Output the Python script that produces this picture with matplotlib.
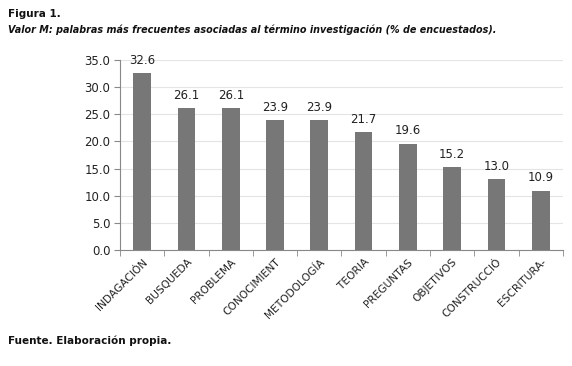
import matplotlib
matplotlib.use("Agg")
import matplotlib.pyplot as plt
import numpy as np

categories = ["INDAGACIÓN", "BUSQUEDA", "PROBLEMA", "CONOCIMIENT", "METODOLOGÍA",
              "TEORIA", "PREGUNTAS", "OBJETIVOS", "CONSTRUCCIÓ", "ESCRITURA-"]
values = [32.6, 26.1, 26.1, 23.9, 23.9, 21.7, 19.6, 15.2, 13.0, 10.9]
yticks = [0, 5, 10, 15, 20, 25, 30, 35]

fig = plt.figure(figsize=(5.72, 3.66), dpi=100)
fig.patch.set_facecolor("white")
ax = fig.add_axes([0.21, 0.317, 0.774, 0.519])

x = np.arange(len(categories))
ax.bar(x, values, width=0.4, color="#777777", zorder=3)
for xi, v in zip(x, values):
    ax.text(xi, v + 1.2, f"{v:.1f}", ha="center", va="bottom", fontsize=8.5, color="#222222")

ax.set_xlim(-0.5, len(categories) - 0.5)
ax.set_ylim(0, 35)
ax.set_yticks(yticks)
ax.set_yticklabels([f"{t:.1f}" for t in yticks], fontsize=8.5, color="#222222")
ax.grid(axis="y", color="#e4e4e4", linewidth=0.8, zorder=0)

ax.set_xticks(x)
ax.set_xticklabels(categories, rotation=45, ha="right", rotation_mode="anchor", fontsize=7.7, color="#222222")
ax.tick_params(axis="x", length=0, pad=5)
ax.set_xticks(np.arange(len(categories) + 1) - 0.5, minor=True)
ax.tick_params(axis="x", which="minor", length=4, color="#888888")
ax.tick_params(axis="y", length=4, color="#888888", pad=3)

for s in ["top", "right"]:
    ax.spines[s].set_visible(False)
ax.spines["left"].set_color("#888888")
ax.spines["bottom"].set_color("#888888")

fig.text(0.014, 0.962, "Figura 1.", fontsize=7.5, fontweight="bold", ha="left", va="center", color="#111111")
fig.text(0.014, 0.918, "Valor M: palabras más frecuentes asociadas al término investigación (% de encuestados).",
         fontsize=6.9, fontweight="bold", style="italic", ha="left", va="center", color="#111111")
fig.text(0.014, 0.07, "Fuente. Elaboración propia.", fontsize=7.5, fontweight="bold", ha="left", va="center", color="#111111")

fig.savefig("out.png", dpi=100, facecolor="white")
